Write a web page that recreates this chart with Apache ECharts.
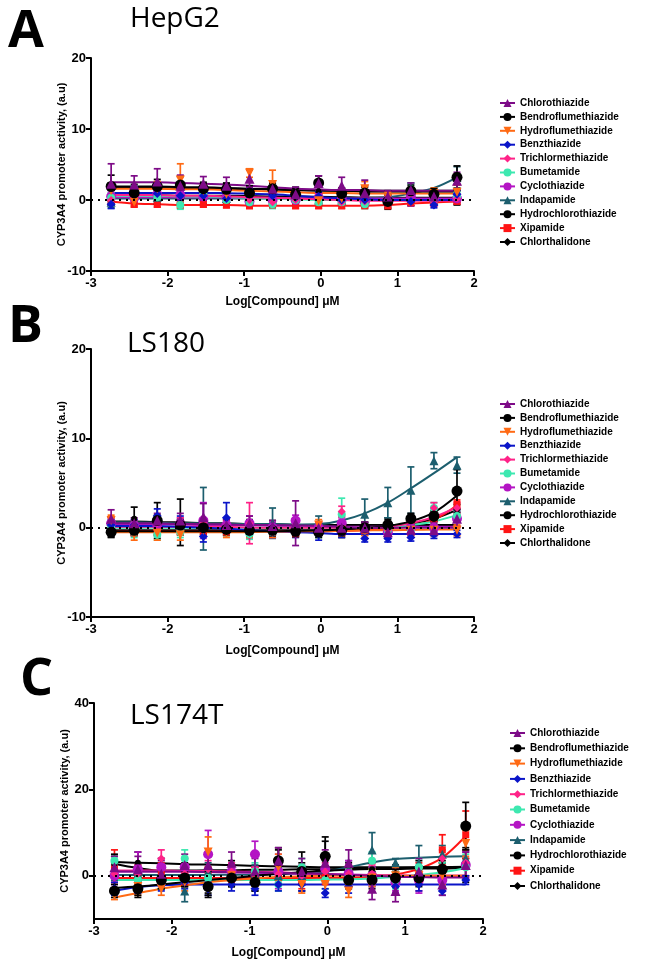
<!DOCTYPE html>
<html>
<head>
<meta charset="utf-8">
<script src="https://cdn.jsdelivr.net/npm/echarts@6/dist/echarts.min.js"></script>
<style>
html,body{margin:0;padding:0;background:#fff;}
#chart{width:645px;height:978px;}
</style>
</head>
<body>
<div id="chart"></div>
<script>
// ---------------- DATA ----------------
const compounds = ['Chlorothiazide','Bendroflumethiazide','Hydroflumethiazide','Benzthiazide','Trichlormethiazide','Bumetamide','Cyclothiazide','Indapamide','Hydrochlorothiazide','Xipamide','Chlorthalidone'];
const logConc = [-2.737,-2.436,-2.135,-1.834,-1.533,-1.232,-0.931,-0.630,-0.329,-0.028,0.273,0.574,0.875,1.176,1.477,1.778];
const xTicks = [-3,-2,-1,0,1,2];
const panelLetters = ['A','B','C'];
const cellLines = ['HepG2','LS180','LS174T'];
const yTicksA = [-10,0,10,20];
const yTicksB = [-10,0,10,20];
const yTicksC = [0,20,40];

// HepG2 (A)
const hepg2Mean = [
 [2.3,2.2,2.6,2.0,2.3,2.0,3.0,1.6,0.8,2.4,2.0,1.0,0.5,1.4,0.5,2.7],
 [1.9,1.0,1.9,2.1,1.6,1.5,1.0,1.6,0.8,2.4,0.9,1.0,-0.2,1.3,0.8,3.2],
 [1.3,-0.3,1.6,2.8,1.3,0.8,3.8,2.2,0.5,-0.1,0.2,1.6,0.3,1.0,0.9,1.1],
 [-0.6,1.0,0.9,0.6,0.6,0.2,1.0,0.6,0.4,0.5,0.0,0.0,-0.3,-0.2,-0.7,0.8],
 [0.0,0.4,0.9,0.6,0.5,0.4,0.0,-0.3,0.0,0.3,-0.3,-0.2,0.0,-0.2,-0.3,0.2],
 [0.3,1.2,0.4,-0.7,0.8,0.0,-0.3,-0.6,0.0,-0.3,-0.3,-0.6,0.0,1.5,0.0,0.5],
 [0.5,0.3,0.8,0.7,0.5,0.3,-0.2,0.0,0.0,0.3,0.1,-0.3,0.0,0.5,0.2,0.2],
 [-0.3,1.2,0.4,0.9,0.7,0.2,0.0,0.0,0.5,0.0,0.0,0.2,0.0,1.6,0.8,3.2],
 [1.6,1.4,1.2,1.8,1.5,1.5,1.2,1.5,1.0,1.2,0.8,1.2,0.5,0.9,0.6,0.3],
 [-0.3,-0.6,-0.6,-0.7,-0.6,-0.7,-0.8,-0.7,-0.8,-0.8,-0.8,-0.8,-0.8,-0.4,-0.4,-0.2],
 [0.6,0.8,0.2,0.3,0.3,0.2,0.5,0.0,0.0,0.0,0.2,-0.2,-0.5,0.5,0.3,0.5]
];
const hepg2Sem = [
 [2.8,1.2,1.8,1.5,1.0,1.2,1.2,1.0,1.0,1.0,1.2,1.8,0.8,1.0,0.8,1.2],
 [1.6,0.8,1.0,1.2,0.9,0.9,0.9,0.8,0.8,1.0,0.8,0.8,0.9,0.8,0.8,1.6],
 [1.0,0.5,1.0,2.3,0.8,0.8,0.6,2.0,0.8,0.8,0.8,1.0,0.8,0.8,0.8,1.0],
 [0.6,0.6,0.6,0.6,0.6,0.6,0.6,0.6,0.6,0.6,0.6,0.6,0.6,0.6,0.4,0.6],
 [0.6,0.6,0.6,0.6,0.6,0.6,0.6,0.6,0.6,0.6,0.6,0.6,0.6,0.6,0.6,0.6],
 [0.7,0.7,0.6,0.6,0.6,0.6,0.6,0.6,0.6,0.6,0.6,0.6,0.6,0.8,0.6,0.6],
 [0.6,0.6,0.6,0.6,0.6,0.6,0.6,0.6,0.6,0.6,0.6,0.6,0.6,0.6,0.6,0.6],
 [0.8,0.8,0.8,0.8,0.8,0.8,0.8,0.8,0.8,0.8,0.8,0.8,0.8,0.8,0.8,1.5],
 [0.8,0.8,0.8,0.8,0.8,0.8,0.8,0.8,0.8,0.8,0.8,0.8,0.8,0.8,0.8,1.0],
 [0.4,0.4,0.4,0.4,0.4,0.4,0.4,0.4,0.4,0.4,0.4,0.4,0.4,0.4,0.4,0.4],
 [0.8,0.8,0.8,0.8,0.8,0.8,0.8,0.8,0.8,0.8,0.8,0.8,0.8,0.8,0.8,0.8]
];
const hepg2Fit = [
 [2.5,2.5,2.5,2.4,2.3,2.2,2.0,1.8,1.6,1.5,1.4,1.4,1.3,1.3,1.3,1.3],
 [1.9,1.9,1.9,1.8,1.8,1.7,1.6,1.5,1.4,1.3,1.3,1.2,1.2,1.2,1.2,1.2],
 [1.6,1.6,1.6,1.5,1.5,1.4,1.3,1.2,1.1,1.0,1.0,0.9,0.9,0.9,0.9,0.9],
 [1.0,1.0,1.0,1.0,1.0,0.95,0.9,0.8,0.6,0.4,0.25,0.1,0.0,0.0,0.0,0.0],
 [0.7,0.7,0.7,0.6,0.6,0.5,0.4,0.3,0.2,0.1,0.0,-0.1,-0.1,-0.1,-0.1,-0.1],
 [0.6,0.6,0.6,0.5,0.5,0.4,0.3,0.2,0.1,0.0,0.0,0.0,0.0,0.0,0.0,0.0],
 [0.4,0.4,0.4,0.4,0.4,0.35,0.3,0.3,0.25,0.2,0.2,0.2,0.2,0.2,0.2,0.2],
 [0.2,0.2,0.2,0.2,0.2,0.2,0.2,0.2,0.2,0.2,0.2,0.25,0.4,0.9,1.7,3.2],
 [1.7,1.7,1.7,1.6,1.6,1.6,1.5,1.5,1.4,1.4,1.3,1.3,1.3,1.3,1.3,1.3],
 [-0.2,-0.5,-0.6,-0.7,-0.7,-0.7,-0.8,-0.8,-0.8,-0.8,-0.8,-0.8,-0.7,-0.5,-0.35,-0.2],
 [0.7,0.7,0.7,0.6,0.6,0.6,0.55,0.5,0.5,0.45,0.4,0.35,0.35,0.3,0.3,0.3]
];

// LS180 (B)
const ls180Mean = [
 [1.0,0.5,0.8,0.8,1.2,0.3,0.5,0.2,0.5,0.0,0.0,0.0,-0.5,-0.2,-0.3,1.0],
 [-0.5,-0.3,0.8,0.3,0.0,-0.2,-0.3,-0.3,-0.4,-0.5,-0.3,0.0,0.3,1.0,1.3,4.1],
 [0.8,-0.8,-0.6,-0.8,-0.3,-0.5,-0.5,-0.5,-0.4,0.3,-0.3,-0.3,-0.3,-0.3,-0.3,-0.3],
 [0.3,0.3,1.3,0.5,-1.0,1.1,-0.5,-0.5,-0.5,-0.8,-0.5,-1.2,-1.2,-1.1,-0.8,-0.7],
 [0.5,0.2,0.5,0.5,0.5,0.2,0.5,-0.5,-0.3,0.0,1.8,-0.2,-0.3,-0.2,2.2,2.2],
 [0.2,-0.5,-0.8,-0.5,0.2,-0.3,-0.7,-0.5,-0.4,-0.5,1.5,-0.2,-0.3,-0.2,2.2,1.3],
 [0.5,0.2,0.3,0.5,0.8,0.3,0.5,0.0,0.8,0.0,0.5,0.0,-0.5,0.0,0.0,1.0],
 [0.3,0.2,0.5,0.3,1.0,0.3,0.0,0.5,0.3,0.5,0.5,1.5,2.8,4.2,7.5,7.0],
 [0.7,1.0,0.8,0.6,0.5,0.3,0.3,0.2,0.0,-0.3,-0.5,0.0,0.5,0.8,1.0,1.5],
 [-0.3,-0.5,-0.5,-0.4,-0.4,-0.5,-0.5,-0.5,-0.6,-0.5,-0.4,-0.3,-0.2,0.3,1.0,2.6],
 [-0.6,-0.4,-0.3,-0.3,-0.3,-0.3,-0.3,-0.4,-0.3,-0.3,-0.2,-0.2,0.2,0.8,1.3,2.0]
];
const ls180Sem = [
 [1.0,0.6,0.8,0.8,1.5,0.6,0.8,0.6,2.5,0.6,0.8,0.6,0.6,0.6,0.6,1.0],
 [0.5,0.5,0.6,0.6,0.6,0.6,0.6,0.6,0.6,0.6,0.6,0.6,0.6,0.6,0.6,2.4],
 [0.6,0.6,0.8,0.6,0.6,0.6,0.6,0.6,0.6,0.6,0.6,0.6,0.6,0.6,0.6,0.6],
 [0.6,0.6,0.8,0.8,0.6,1.7,0.6,0.6,0.6,0.6,0.6,0.4,0.4,0.4,0.4,0.4],
 [0.6,0.6,0.6,0.6,0.6,0.6,2.3,0.6,0.6,0.6,0.6,0.6,0.6,0.6,0.6,0.6],
 [0.6,0.6,0.6,0.6,0.6,0.6,0.6,0.6,0.6,0.6,1.8,0.6,0.6,0.6,0.6,0.6],
 [0.6,0.6,0.6,0.6,2.0,0.6,0.8,0.6,0.6,0.6,0.6,0.6,0.6,0.6,0.6,0.8],
 [0.5,0.5,0.6,0.6,3.5,0.8,0.8,1.7,0.6,0.8,0.8,1.7,1.7,2.6,0.9,0.9],
 [0.5,1.3,2.0,2.6,0.6,0.6,0.6,0.6,0.6,0.6,0.6,0.6,0.6,0.6,0.6,0.6],
 [0.4,0.4,0.4,0.4,0.4,0.4,0.4,0.4,0.4,0.4,0.4,0.4,0.4,0.4,0.4,0.5],
 [0.5,0.5,0.5,0.5,0.5,0.5,0.5,0.5,0.5,0.5,0.5,0.5,0.5,0.5,0.5,0.6]
];
const ls180Fit = [
 [0.5,0.5,0.5,0.4,0.4,0.35,0.3,0.3,0.25,0.2,0.1,0.0,0.0,0.0,0.0,0.0],
 [-0.4,-0.4,-0.4,-0.4,-0.4,-0.4,-0.4,-0.4,-0.35,-0.3,-0.2,0.0,0.2,0.7,1.7,3.6],
 [-0.5,-0.5,-0.5,-0.5,-0.5,-0.5,-0.5,-0.45,-0.4,-0.4,-0.35,-0.3,-0.3,-0.25,-0.2,-0.2],
 [0.2,0.2,0.2,0.1,0.0,-0.1,-0.3,-0.4,-0.5,-0.6,-0.7,-0.7,-0.7,-0.7,-0.7,-0.7],
 [0.1,0.1,0.1,0.1,0.1,0.1,0.0,0.0,0.0,0.0,0.0,0.0,0.1,0.5,1.2,2.3],
 [0.0,0.0,0.0,0.0,0.0,0.0,0.0,0.0,0.0,0.0,0.0,0.0,0.1,0.3,0.7,1.4],
 [0.4,0.4,0.4,0.35,0.3,0.3,0.25,0.2,0.2,0.15,0.1,0.1,0.1,0.1,0.1,0.1],
 [0.6,0.6,0.55,0.5,0.5,0.45,0.4,0.4,0.35,0.4,0.8,1.6,2.8,4.4,6.1,7.9],
 [0.7,0.7,0.6,0.6,0.5,0.5,0.4,0.4,0.3,0.3,0.3,0.3,0.3,0.3,0.3,0.3],
 [-0.4,-0.4,-0.4,-0.4,-0.4,-0.4,-0.4,-0.4,-0.4,-0.4,-0.35,-0.3,-0.15,0.2,0.9,2.5],
 [-0.3,-0.3,-0.3,-0.3,-0.3,-0.3,-0.3,-0.3,-0.3,-0.3,-0.25,-0.2,0.0,0.4,1.0,2.0]
];

// LS174T (C)
const ls174tMean = [
 [2.0,1.5,0.5,2.5,2.5,3.0,1.0,3.5,1.0,3.0,3.0,-3.0,-3.5,1.0,-2.0,2.5],
 [-3.5,-3.0,-1.0,-0.5,-2.5,-0.5,-1.5,3.5,1.0,4.5,-1.0,-1.0,-0.5,-0.5,1.5,11.5],
 [-4.5,-2.5,-3.0,-1.5,5.5,0.0,-0.5,2.0,-2.0,-2.0,-3.5,-0.5,0.0,0.0,0.0,7.5],
 [-3.0,-2.5,-2.0,-1.5,-3.0,-2.0,-3.0,-2.0,-2.0,-4.0,-2.5,-1.0,-2.5,-2.0,-3.5,-1.0],
 [0.5,0.5,4.0,0.5,1.5,1.0,0.0,0.5,0.0,1.0,0.5,0.5,-0.5,-1.5,4.0,3.0],
 [3.5,-1.0,-1.0,4.0,-0.5,0.0,1.0,-2.0,2.0,-1.0,-0.5,3.5,-1.0,2.0,1.0,2.0],
 [0.0,1.5,2.0,2.0,5.0,1.0,5.0,1.0,0.5,1.5,0.5,0.0,-1.5,-1.0,-1.0,2.5],
 [1.0,0.5,-1.0,-3.5,1.0,0.0,0.5,0.0,0.0,1.5,1.5,6.0,3.0,3.0,5.0,4.0],
 [3.0,3.0,2.0,1.0,-2.0,0.5,-1.5,3.0,1.0,3.5,1.0,1.5,0.5,1.5,1.0,2.5],
 [1.5,0.5,1.0,0.0,0.0,0.5,0.0,0.0,-1.0,0.0,-0.5,0.0,0.0,1.0,6.0,9.5],
 [2.5,-3.5,-1.0,-0.5,-2.0,1.0,0.0,1.0,0.0,2.0,0.0,1.0,-0.5,0.0,1.0,2.0]
];
const ls174tSem = [
 [2.5,3.0,3.0,2.5,3.0,2.5,3.0,3.0,3.0,3.0,3.0,2.5,2.5,3.0,2.5,3.0],
 [1.5,1.5,2.0,2.0,2.0,2.0,2.0,3.0,2.0,4.5,2.0,2.0,2.0,2.0,2.0,5.5],
 [1.0,2.0,1.5,2.0,3.5,2.0,2.0,3.0,2.0,2.0,1.5,2.0,2.0,2.0,2.0,3.0],
 [1.5,1.5,1.5,1.5,1.5,1.5,1.5,1.5,1.5,1.0,1.5,1.5,1.5,1.5,1.0,1.0],
 [2.0,2.0,2.0,2.0,2.0,2.0,2.0,2.0,2.0,2.0,2.0,2.0,2.0,2.0,2.0,3.0],
 [1.0,2.0,2.0,2.0,2.0,2.0,2.0,1.5,2.0,2.0,2.0,2.0,2.0,2.0,2.0,3.0],
 [2.0,4.0,2.0,2.0,5.5,2.0,3.0,4.0,2.0,3.0,3.0,2.0,2.0,3.0,2.0,3.0],
 [2.0,2.0,2.0,2.5,2.0,2.0,2.0,2.0,2.0,2.0,2.0,4.0,1.0,4.0,2.0,2.0],
 [2.0,2.5,2.0,2.0,3.0,3.0,2.0,3.0,4.5,4.5,2.0,2.0,2.0,2.0,2.0,4.0],
 [4.5,2.0,2.0,2.0,2.0,2.0,2.0,2.0,2.0,2.0,2.0,2.0,2.0,2.0,3.5,5.5],
 [2.0,1.5,2.0,2.0,2.0,2.0,2.0,2.0,2.0,2.0,2.0,2.0,2.0,2.0,2.0,2.0]
];
const ls174tFit = [
 [1.0,1.0,1.0,1.0,0.9,0.9,0.8,0.7,0.6,0.4,0.2,0.0,-0.2,-0.3,-0.4,-0.4],
 [-2.8,-2.5,-2.0,-1.5,-1.0,-0.5,0.0,0.5,0.8,1.2,1.4,1.6,1.8,1.9,2.0,2.1],
 [-5.0,-4.0,-3.0,-2.2,-1.5,-1.0,-0.6,-0.3,-0.1,0.0,0.0,0.0,0.0,0.0,0.0,0.0],
 [-3.5,-2.6,-2.2,-2.0,-2.0,-2.0,-2.0,-2.0,-2.0,-2.0,-2.0,-2.0,-2.0,-2.0,-2.0,-2.0],
 [1.2,1.2,1.2,1.1,1.1,1.0,0.9,0.8,0.6,0.4,0.2,0.1,0.0,0.0,0.0,0.0],
 [-1.0,-1.0,-1.0,-1.0,-1.0,-1.0,-1.0,-1.0,-1.0,-0.9,-0.8,-0.6,-0.3,0.2,0.8,1.8],
 [1.0,1.0,1.0,1.0,0.9,0.8,0.7,0.6,0.5,0.4,0.3,0.2,0.1,0.0,0.0,0.0],
 [0.2,0.2,0.2,0.2,0.2,0.25,0.3,0.4,0.6,1.0,2.0,3.1,3.9,4.2,4.4,4.5],
 [3.2,3.0,2.9,2.7,2.6,2.5,2.3,2.2,2.1,2.0,2.0,2.0,2.0,2.0,2.0,2.0],
 [-0.5,-0.5,-0.5,-0.5,-0.5,-0.5,-0.5,-0.5,-0.5,-0.5,-0.5,-0.3,0.3,1.6,4.2,9.2],
 [2.8,1.8,1.2,1.2,1.3,1.3,1.4,1.4,1.5,1.5,1.6,1.6,1.6,1.7,1.7,1.8]
];

// ---------------- STYLE ----------------
const colors = ['#7d0b87','#000000','#ff6a14','#0a14c8','#ff2288','#3de8b0','#b414c4','#1c5e6e','#000000','#ff1414','#000000'];
const symbols = ['triangle','circle','triangle','diamond','diamond','circle','circle','triangle','circle','rect','diamond'];
const symRot = [0,0,180,0,0,0,0,0,0,0,0];
const symSize = [10,11,9,9,8,8,10,9,6,7,7];
const FONT = '"Liberation Sans", Arial, sans-serif';

const panels = [
  {mean: hepg2Mean, sem: hepg2Sem, fit: hepg2Fit},
  {mean: ls180Mean, sem: ls180Sem, fit: ls180Fit},
  {mean: ls174tMean, sem: ls174tSem, fit: ls174tFit}
];

const grids = [
  {left: 91, top: 58, width: 383, height: 213},
  {left: 91, top: 349, width: 383, height: 268},
  {left: 94, top: 703, width: 389, height: 216}
];
const yRanges = [[-10,20,yTicksA],[-10,20,yTicksB],[-10,40,yTicksC]];

const axisLineStyle = {color:'#000', width: 2};
const xAxes = grids.map((g,i)=>({
  gridIndex: i, type:'value', min: xTicks[0], max: xTicks[xTicks.length-1], interval: 1,
  axisLine:{show:true, onZero:false, lineStyle: axisLineStyle},
  axisTick:{show:true, length:5, lineStyle:{color:'#000', width:2}},
  axisLabel:{color:'#000', fontWeight:'bold', fontSize:13, fontFamily: FONT, margin:6},
  splitLine:{show:false},
  name:'Log[Compound] \u03bcM', nameLocation:'middle', nameGap: i===0?25:28, nameMoveOverlap:false,
  nameTextStyle:{color:'#000', fontWeight:'bold', fontSize:12, fontFamily: FONT}
}));
const yAxes = grids.map((g,i)=>({
  gridIndex: i, type:'value', min: yRanges[i][0], max: yRanges[i][1], interval: 10,
  axisLine:{show:true, onZero:false, lineStyle: axisLineStyle},
  axisTick:{show:true, length:5, lineStyle:{color:'#000', width:2}, customValues: yRanges[i][2]},
  axisLabel:{color:'#000', fontWeight:'bold', fontSize:13, fontFamily: FONT, margin:5, customValues: yRanges[i][2]},
  splitLine:{show:false},
  name:'CYP3A4 promoter activity, (a.u)', nameLocation:'middle', nameGap: 24, nameMoveOverlap:false,
  nameTextStyle:{color:'#000', fontWeight:'bold', fontSize:11, fontFamily: FONT}
}));

function makeErrRender(color){
  return function(params, api){
    const x = api.value(0), lo = api.value(1), hi = api.value(2);
    const pLo = api.coord([x, lo]), pHi = api.coord([x, hi]);
    const c = 3.5;
    const st = {stroke: color, lineWidth: 1.7, fill: null};
    return {type:'group', children:[
      {type:'line', shape:{x1:pLo[0], y1:pLo[1], x2:pHi[0], y2:pHi[1]}, style: st},
      {type:'line', shape:{x1:pHi[0]-c, y1:pHi[1], x2:pHi[0]+c, y2:pHi[1]}, style: st},
      {type:'line', shape:{x1:pLo[0]-c, y1:pLo[1], x2:pLo[0]+c, y2:pLo[1]}, style: st}
    ]};
  };
}

const series = [];
panels.forEach((p, pi)=>{
  for (let k = compounds.length-1; k >= 0; k--) {
    const name = compounds[k];
    const col = colors[k];
    const lineSeries = {
      name, type:'line', xAxisIndex: pi, yAxisIndex: pi,
      data: logConc.map((x,j)=>[x, p.fit[k][j]]),
      smooth: 0.35, showSymbol:false, symbol: symbols[k], symbolRotate: symRot[k], symbolSize: symSize[k],
      lineStyle:{color: col, width: 2}, itemStyle:{color: col},
      emphasis:{disabled:true}, silent:true, animation:false, z: 2
    };
    if (k === compounds.length-1) {
      lineSeries.markLine = {
        silent:true, symbol:'none', label:{show:false}, animation:false,
        lineStyle:{color:'#000', type:[2,5], width:1.8},
        data:[{yAxis:0}]
      };
    }
    series.push(lineSeries);
    series.push({
      name, type:'custom', xAxisIndex: pi, yAxisIndex: pi,
      data: logConc.map((x,j)=>[x, p.mean[k][j]-p.sem[k][j], p.mean[k][j]+p.sem[k][j]]),
      encode:{x:0, y:[1,2]},
      renderItem: makeErrRender(col), silent:true, animation:false, z: 3
    });
    series.push({
      name, type:'scatter', xAxisIndex: pi, yAxisIndex: pi,
      data: logConc.map((x,j)=>[x, p.mean[k][j]]),
      symbol: symbols[k], symbolRotate: symRot[k], symbolSize: symSize[k],
      itemStyle:{color: col, opacity:1}, emphasis:{disabled:true}, silent:true, animation:false, z: 4
    });
  }
});

const legendBase = {
  orient:'vertical', data: compounds, itemWidth: 15, itemHeight: 10, selectedMode:false,
  textStyle:{color:'#000', fontWeight:'bold', fontSize:10, fontFamily: FONT, padding:[0,0,0,0]},
  itemStyle:{}, padding:0
};
const legends = [
  Object.assign({}, legendBase, {left: 499, top: 98, itemGap: 3.9}),
  Object.assign({}, legendBase, {left: 499, top: 399, itemGap: 3.9}),
  Object.assign({}, legendBase, {left: 509, top: 728, itemGap: 5.3})
];

const letterPos = [[8,30],[8,325],[20,678]];
const titlePos = [[130,22],[127,347],[130,719]];
const graphics = [];
panelLetters.forEach((L,i)=>{
  graphics.push({type:'text', left: letterPos[i][0], top: letterPos[i][1]-24, silent:true,
    style:{text:L, font:'bold 52px "Open Sans", "Liberation Sans", sans-serif', fill:'#000'}});
});
cellLines.forEach((t,i)=>{
  graphics.push({type:'text', left: titlePos[i][0], top: titlePos[i][1]-17, silent:true,
    style:{text:t, font:'normal 28px "Open Sans", "Liberation Sans", sans-serif', fill:'#000'}});
});

const chart = echarts.init(document.getElementById('chart'), null, {renderer:'canvas'});
chart.setOption({
  backgroundColor:'#ffffff',
  animation:false,
  grid: grids,
  xAxis: xAxes,
  yAxis: yAxes,
  legend: legends,
  graphic: graphics,
  series
});
</script>
</body>
</html>
